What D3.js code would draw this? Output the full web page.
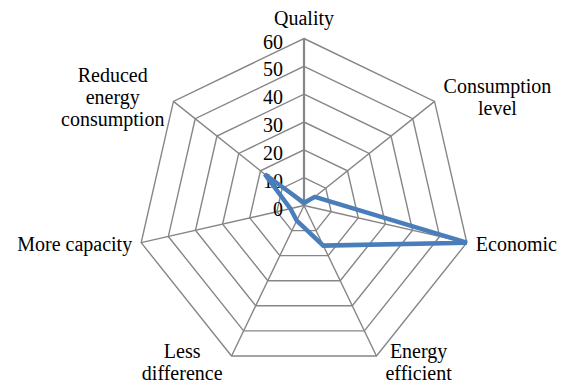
<!DOCTYPE html>
<html><head><meta charset="utf-8"><script src="https://cdn.jsdelivr.net/npm/d3@7"></script></head>
<body style="margin:0">
<svg id="s"></svg>
<script>
var categories = ["Quality", "Consumption level", "Economic", "Energy efficient",
                  "Less difference", "More capacity", "Reduced energy consumption"]
var labelLines = [["Quality"], ["Consumption", "level"], ["Economic"], ["Energy", "efficient"],
                  ["Less", "difference"], ["More capacity"], ["Reduced", "energy", "consumption"]]
var values = [1, 5, 60, 16, 6, 5, 18]
var ticks = [0, 10, 20, 30, 40, 50, 60]

var width = 561, height = 385
var cx = 304, cy = 205.5, radius = 167
var font = "'Times New Roman'"

var ctx = document.createElement("canvas").getContext("2d")
ctx.font = "20px 'Times New Roman'"
function textWidth(s) { return ctx.measureText(s).width }

var svg = d3.select("#s").attr("width", width).attr("height", height)

var rScale = d3.scaleLinear().domain([0, 60]).range([0, radius])
var angle = d3.scalePoint().domain(categories).range([0, 2 * Math.PI * 6 / 7])

function pt(cat, v) {
    var a = angle(cat)
    return [cx + Math.sin(a) * rScale(v), cy - Math.cos(a) * rScale(v)]
}

// rings
var ring = d3.line().curve(d3.curveLinearClosed)
svg.selectAll("path.ring")
    .data(ticks.slice(1))
    .enter()
    .append("path")
    .attr("class", "ring")
    .attr("d", function(t) { return ring(categories.map(function(c) { return pt(c, t) })) })
    .attr("fill", "none")
    .attr("stroke", "#868686")
    .attr("stroke-width", 1.4)

// spokes
svg.selectAll("line.spoke")
    .data(categories)
    .enter()
    .append("line")
    .attr("class", "spoke")
    .attr("x1", cx).attr("y1", cy)
    .attr("x2", function(c) { return pt(c, 60)[0] })
    .attr("y2", function(c) { return pt(c, 60)[1] })
    .attr("stroke", "#868686")
    .attr("stroke-width", function(c, i) { return i == 0 ? 2.2 : 1.4 })

// tick labels
svg.selectAll("text.tick")
    .data(ticks)
    .enter()
    .append("text")
    .attr("class", "tick")
    .attr("x", cx - 21)
    .attr("y", function(t) { return cy - rScale(t) + 10 })
    .attr("text-anchor", "end")
    .attr("font-size", "20px")
    .style("font-family", font)
    .text(function(t) { return t })

// series
var line = d3.line().curve(d3.curveLinearClosed)
svg.append("path")
    .attr("d", line(categories.map(function(c, i) { return pt(c, values[i]) })))
    .attr("fill", "none")
    .attr("stroke", "#4a7ebb")
    .attr("stroke-width", 4.5)

// category labels, one text per line, centred as a block outside its vertex
var lh = 22
var labelRows = []
categories.forEach(function(c, i) {
    var a = angle(c), dx = Math.sin(a), dy = -Math.cos(a)
    var v = pt(c, 60)
    var lines = labelLines[i]
    var h = lines.length * lh
    var w = d3.max(lines, textWidth)
    var x, mid
    if (Math.abs(dx) < 0.1) {
        x = v[0]
        mid = v[1] - 10 - h / 2
    } else {
        x = v[0] + (dx > 0 ? 9 + w / 2 : -9 - w / 2)
        mid = v[1] + dy * 7
    }
    lines.forEach(function(s, j) {
        labelRows.push({ text: s, x: x, y: mid - h / 2 + lh * j + lh / 2 + 7 })
    })
})

svg.selectAll("text.cat")
    .data(labelRows)
    .enter()
    .append("text")
    .attr("class", "cat")
    .attr("x", function(d) { return d.x })
    .attr("y", function(d) { return d.y })
    .attr("text-anchor", "middle")
    .attr("font-size", "20px")
    .style("font-family", font)
    .text(function(d) { return d.text })
</script></body></html>
